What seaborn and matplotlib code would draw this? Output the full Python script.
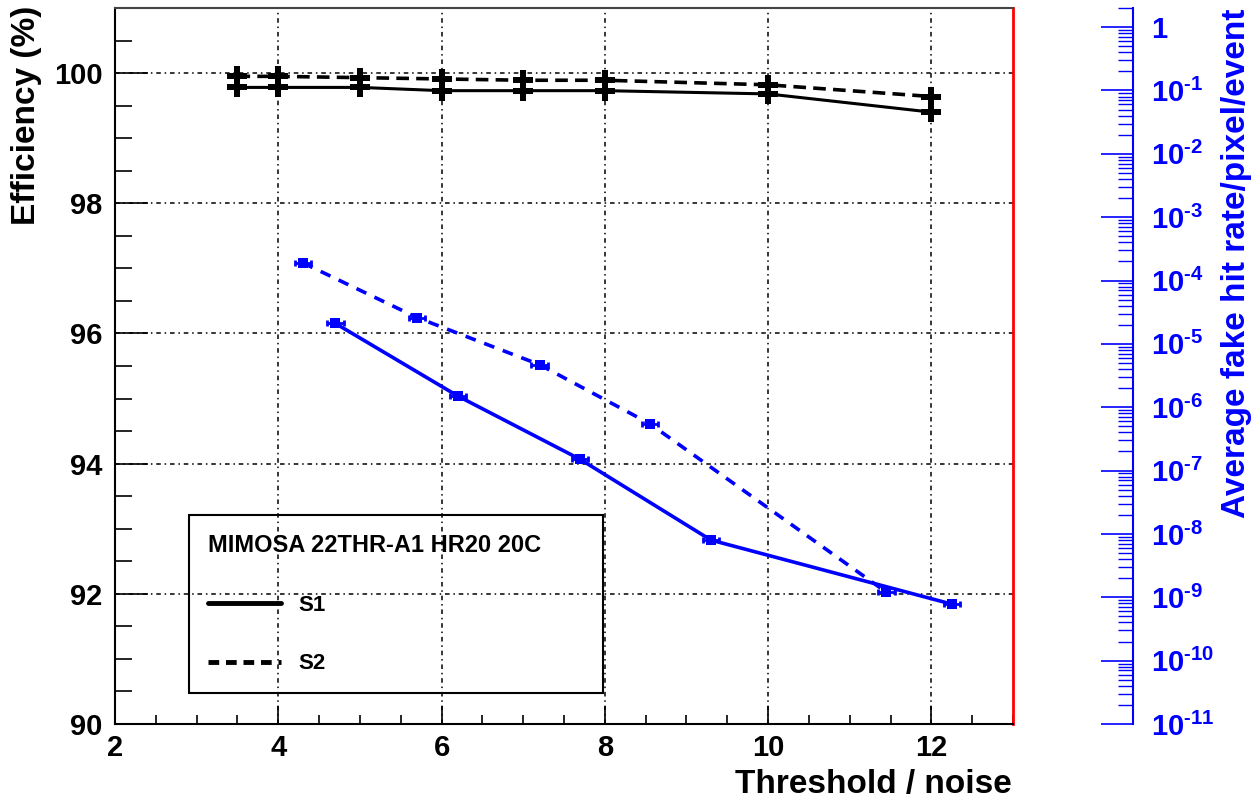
import numpy as np
import pandas as pd
import matplotlib
matplotlib.use("Agg")
import matplotlib.pyplot as plt
import seaborn as sns
from matplotlib.ticker import MultipleLocator, FixedLocator, FuncFormatter, LogLocator, NullFormatter
from matplotlib.lines import Line2D

# ---------------- data ----------------
eff_x = [3.5, 4, 5, 6, 7, 8, 10, 12]
eff_s1 = [99.78, 99.78, 99.78, 99.73, 99.73, 99.73, 99.68, 99.40]
eff_s2 = [99.95, 99.95, 99.93, 99.91, 99.89, 99.89, 99.82, 99.64]

fake_x_s1 = [4.7, 6.2, 7.7, 9.3, 12.25]
fake_s1 = [2.1e-5, 1.5e-6, 1.5e-7, 8.0e-9, 7.8e-10]
fake_x_s2 = [4.3, 5.7, 7.2, 8.55, 11.45]
fake_s2 = [1.9e-4, 2.6e-5, 4.7e-6, 5.5e-7, 1.2e-9]

legend_title = "MIMOSA 22THR-A1 HR20 20C"
series_labels = ["S1", "S2"]

# ---------------- style ----------------
sns.set_theme(style="white")
plt.rcParams["font.family"] = ["Liberation Sans", "DejaVu Sans"]
plt.rcParams["font.weight"] = "bold"
plt.rcParams["text.color"] = "black"
plt.rcParams["axes.labelcolor"] = "black"
plt.rcParams["xtick.color"] = "black"
plt.rcParams["ytick.color"] = "black"
plt.rcParams["mathtext.fontset"] = "custom"
plt.rcParams["mathtext.rm"] = "Liberation Sans:bold"
plt.rcParams["mathtext.bf"] = "Liberation Sans:bold"
plt.rcParams["mathtext.it"] = "Liberation Sans:bold"
plt.rcParams["mathtext.sf"] = "Liberation Sans:bold"
plt.rcParams["mathtext.default"] = "rm"

W, H = 1251, 799
fig = plt.figure(figsize=(W / 100, H / 100), dpi=100)
L, R, T, B = 115, 1013, 8, 724
ax = fig.add_axes([L / W, 1 - B / H, (R - L) / W, (B - T) / H])

grid_ls = (0, (3, 2.5, 1, 2.5))

# left (efficiency) axis
ax.set_xlim(2, 13)
ax.set_ylim(90, 101)
ax.xaxis.set_major_locator(FixedLocator([2, 4, 6, 8, 10, 12]))
ax.xaxis.set_minor_locator(MultipleLocator(0.5))
ax.yaxis.set_major_locator(FixedLocator([90, 92, 94, 96, 98, 100]))
ax.yaxis.set_minor_locator(MultipleLocator(0.5))
ax.tick_params(axis="x", which="major", direction="in", length=13, width=1.2,
               color="black", labelcolor="black", labelsize=21, pad=7,
               bottom=True, top=False)
ax.tick_params(axis="x", which="minor", direction="in", length=6.5, width=1.2,
               color="black", bottom=True, top=False)
ax.tick_params(axis="y", which="major", direction="in", length=24, width=1.2,
               color="black", labelcolor="black", labelsize=21, pad=9,
               left=True, right=False)
ax.tick_params(axis="y", which="minor", direction="in", length=12.5, width=1.2,
               color="black", left=True, right=False)
for lbl in ax.get_xticklabels() + ax.get_yticklabels():
    lbl.set_fontweight("bold")
ax.grid(True, which="major", color="black", linestyle=grid_ls, linewidth=1.1)
ax.spines["left"].set_color("black")
ax.spines["left"].set_linewidth(1.5)
ax.spines["bottom"].set_color("black")
ax.spines["bottom"].set_linewidth(1.5)
ax.spines["top"].set_color("#444444")
ax.spines["top"].set_linewidth(1.5)
ax.spines["right"].set_color("red")
ax.spines["right"].set_linewidth(2)

df_eff = pd.DataFrame({"x": eff_x + eff_x,
                       "eff": eff_s1 + eff_s2,
                       "series": ["S1"] * len(eff_x) + ["S2"] * len(eff_x)})

sns.lineplot(data=df_eff[df_eff.series == "S1"], x="x", y="eff", ax=ax,
             color="black", linewidth=2.2, linestyle="-", marker="P",
             markersize=15, markeredgewidth=0, legend=False, zorder=4)
sns.lineplot(data=df_eff[df_eff.series == "S2"], x="x", y="eff", ax=ax,
             color="black", linewidth=2.6, linestyle=(0, (3.5, 2)), marker="P",
             markersize=15, markeredgewidth=0, legend=False, zorder=4)
ax.errorbar(eff_x, eff_s1, yerr=0.05, fmt="none", ecolor="black", elinewidth=2, zorder=4)
ax.errorbar(eff_x, eff_s2, yerr=0.05, fmt="none", ecolor="black", elinewidth=2, zorder=4)
ax.set_xlabel("")
ax.set_ylabel("")

# right (fake hit rate) axis
ax2 = ax.twinx()
ax2.set_yscale("log")
ax2.set_ylim(1e-11, 2)
ax2.set_xlim(2, 13)
for s in ["left", "top", "bottom"]:
    ax2.spines[s].set_visible(False)
ax2.spines["right"].set_position(("outward", 120 * 0.72))
ax2.spines["right"].set_color("blue")
ax2.spines["right"].set_linewidth(1.5)
ax2.yaxis.set_major_locator(FixedLocator([10.0 ** k for k in range(-11, 1)]))
ax2.yaxis.set_minor_locator(LogLocator(base=10, subs=np.arange(2, 10), numticks=30))
ax2.yaxis.set_minor_formatter(NullFormatter())


def fmt_log(v, pos):
    e = int(round(np.log10(v)))
    if e == 0:
        return "1"
    return r"$10^{\text{-%d}}$" % abs(e)


ax2.yaxis.set_major_formatter(FuncFormatter(fmt_log))
ax2.tick_params(axis="y", which="major", direction="in", length=23, width=1.2,
                color="blue", labelcolor="blue", labelsize=21, pad=13)
ax2.tick_params(axis="y", which="minor", direction="in", length=10.5, width=1.0,
                color="blue")

df_fake1 = pd.DataFrame({"x": fake_x_s1, "rate": fake_s1})
df_fake2 = pd.DataFrame({"x": fake_x_s2, "rate": fake_s2})
sns.lineplot(data=df_fake1, x="x", y="rate", ax=ax2, color="blue", linewidth=2.6,
             linestyle="-", marker="s", markersize=7, markeredgewidth=0, legend=False)
sns.lineplot(data=df_fake2, x="x", y="rate", ax=ax2, color="blue", linewidth=2.6,
             linestyle=(0, (3, 2.5)), marker="s", markersize=7, markeredgewidth=0,
             legend=False)
ax2.errorbar(fake_x_s1, fake_s1, xerr=0.1, fmt="none", ecolor="blue",
             elinewidth=2, capsize=2.5, capthick=2)
ax2.errorbar(fake_x_s2, fake_s2, xerr=0.1, fmt="none", ecolor="blue",
             elinewidth=2, capsize=2.5, capthick=2)
ax2.set_xlabel("")
ax2.set_ylabel("")

# legend (box from x=189..603 px, y=515..692 px)
bx0 = (189 - L) / (R - L)
bw = (603 - 189) / (R - L)
by0 = (B - 692) / (B - T)
bh = (692 - 515) / (B - T)
handles = [Line2D([], [], color="black", linewidth=3.5, linestyle="-"),
           Line2D([], [], color="black", linewidth=3.5, linestyle=(0, (2.2, 1.4)))]
leg = ax.legend(handles, series_labels, title=legend_title,
                loc="upper left", mode="expand",
                bbox_to_anchor=(bx0, by0, bw, bh),
                prop={"size": 16, "weight": "bold"},
                title_fontproperties={"size": 17, "weight": "bold"},
                frameon=True, fancybox=False, edgecolor="black",
                handlelength=3.3, handletextpad=0.75, labelspacing=1.7,
                borderpad=0.85, borderaxespad=0)
leg._legend_box.align = "left"
frame = leg.get_frame()
frame.set_linewidth(1.5)
frame.set_facecolor("none")
frame.set_edgecolor("black")
frame.set_alpha(None)
leg.set_zorder(10)

# axis titles (ROOT-style placement)
fig.text(1012 / W, 1 - 793 / H, "Threshold / noise", ha="right", va="baseline",
         fontsize=24, fontweight="bold", color="black")
fig.text(26 / W, 1 - 6 / H, "Efficiency (%)", rotation=90, ha="center", va="top",
         fontsize=24, fontweight="bold", color="black")
fig.text(1236 / W, 1 - 8 / H, "Average fake hit rate/pixel/event", rotation=90,
         ha="center", va="top", fontsize=24, fontweight="bold", color="blue")

fig.savefig("out.png", dpi=100)
